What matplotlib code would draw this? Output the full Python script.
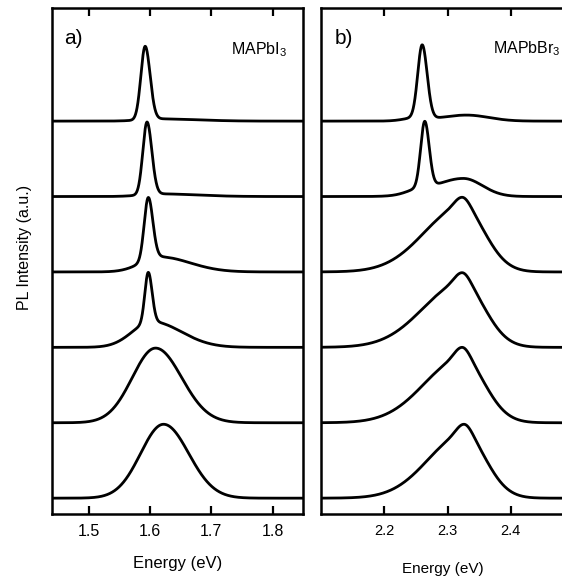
import numpy as np
import matplotlib
matplotlib.use("Agg")
import matplotlib.pyplot as plt

plt.rcParams["font.family"] = ["Liberation Sans", "DejaVu Sans"]
plt.rcParams["mathtext.default"] = "regular"

# PL spectra, listed top to bottom. Each spectrum is a sum of split-Gaussian
# components: centre (eV), sigma below centre, sigma above centre, amplitude.
a_centers = [[1.592, 1.615], [1.595, 1.615], [1.597, 1.615], [1.597, 1.603],
             [1.609], [1.622]]
a_sig_lo = [[0.0070, 0.030], [0.0068, 0.030], [0.0066, 0.030], [0.0055, 0.032],
            [0.038], [0.0374]]
a_sig_hi = [[0.0080, 0.060], [0.0078, 0.060], [0.0074, 0.050], [0.0062, 0.048],
            [0.0425], [0.041]]
a_amps = [[0.97, 0.03], [0.96, 0.035], [0.82, 0.20], [0.66, 0.34],
          [0.99], [0.98]]

b_centers = [[2.260, 2.252, 2.330], [2.264, 2.255, 2.325], [2.323, 2.323],
             [2.323, 2.323], [2.323, 2.323], [2.326, 2.326]]
b_sig_lo = [[0.0070, 0.020, 0.040], [0.0064, 0.020, 0.045], [0.060, 0.012],
            [0.062, 0.012], [0.060, 0.012], [0.057, 0.012]]
b_sig_hi = [[0.0078, 0.015, 0.035], [0.0070, 0.015, 0.030], [0.036, 0.012],
            [0.036, 0.012], [0.036, 0.012], [0.035, 0.012]]
b_amps = [[0.96, 0.04, 0.08], [0.86, 0.05, 0.24], [0.86, 0.13],
          [0.85, 0.14], [0.85, 0.15], [0.84, 0.14]]

a_ticks = [1.5, 1.6, 1.7, 1.8]
b_ticks = [2.2, 2.3, 2.4]
a_xlim = (1.44, 1.85)
b_xlim = (2.10, 2.50)


def split_gauss(e, c, s_lo, s_hi, amp):
    s = np.where(e < c, s_lo, s_hi)
    return amp * np.exp(-0.5 * ((e - c) / s) ** 2)


def spectrum(e, centers, lo, hi, amps):
    return sum(split_gauss(e, c, l, h, a) for c, l, h, a in zip(centers, lo, hi, amps))


W, H = 562, 577
fig = plt.figure(figsize=(W / 100, H / 100), dpi=100)

ax_a = fig.add_axes([52 / W, (H - 514) / H, 251.3 / W, 506 / H])
ax_b = fig.add_axes([321 / W, (H - 514) / H, 253 / W, 506 / H])


def draw_panel(ax, xlim, centers, lo, hi, amps, ticks, tick_fs):
    e = np.linspace(xlim[0], xlim[1], 3000)
    n = len(centers)
    for i in range(n):
        offset = n - 1 - i
        y = offset + spectrum(e, centers[i], lo[i], hi[i], amps[i])
        ax.plot(e, y, color="black", lw=2.0, solid_capstyle="butt")
    ax.set_xlim(*xlim)
    ax.set_ylim(-0.21, 6.5)
    ax.set_xticks(ticks)
    ax.set_xticklabels([f"{t:.1f}" for t in ticks], fontsize=tick_fs)
    ax.set_yticks([])
    ax.tick_params(axis="x", direction="in", length=5.8, width=1.6,
                   top=True, bottom=True, pad=7.5)
    for sp in ax.spines.values():
        sp.set_linewidth(1.8)


draw_panel(ax_a, a_xlim, a_centers, a_sig_lo, a_sig_hi, a_amps, a_ticks, 11.5)
draw_panel(ax_b, b_xlim, b_centers, b_sig_lo, b_sig_hi, b_amps, b_ticks, 10.5)

ax_a.set_xlabel("Energy (eV)", fontsize=12)
ax_a.xaxis.set_label_coords(0.5, -0.083)
ax_b.set_xlabel("Energy (eV)", fontsize=11)
ax_b.xaxis.set_label_coords(0.483, -0.095)

ax_a.set_ylabel("PL Intensity (a.u.)", fontsize=11.5)
ax_a.yaxis.label.set(va="center", rotation_mode="default")
ax_a.yaxis.set_label_coords(-0.111, 0.526)

ax_a.text(0.048, 0.958, "a)", transform=ax_a.transAxes, fontsize=15,
          ha="left", va="top")
ax_b.text(0.055, 0.958, "b)", transform=ax_b.transAxes, fontsize=15,
          ha="left", va="top")
ax_a.text(0.935, 0.909, "MAPbI$_3$", transform=ax_a.transAxes, fontsize=11.5,
          ha="right", va="baseline")
ax_b.text(0.945, 0.91, "MAPbBr$_3$", transform=ax_b.transAxes, fontsize=11.5,
          ha="right", va="baseline")

fig.savefig("out.png", dpi=100)
